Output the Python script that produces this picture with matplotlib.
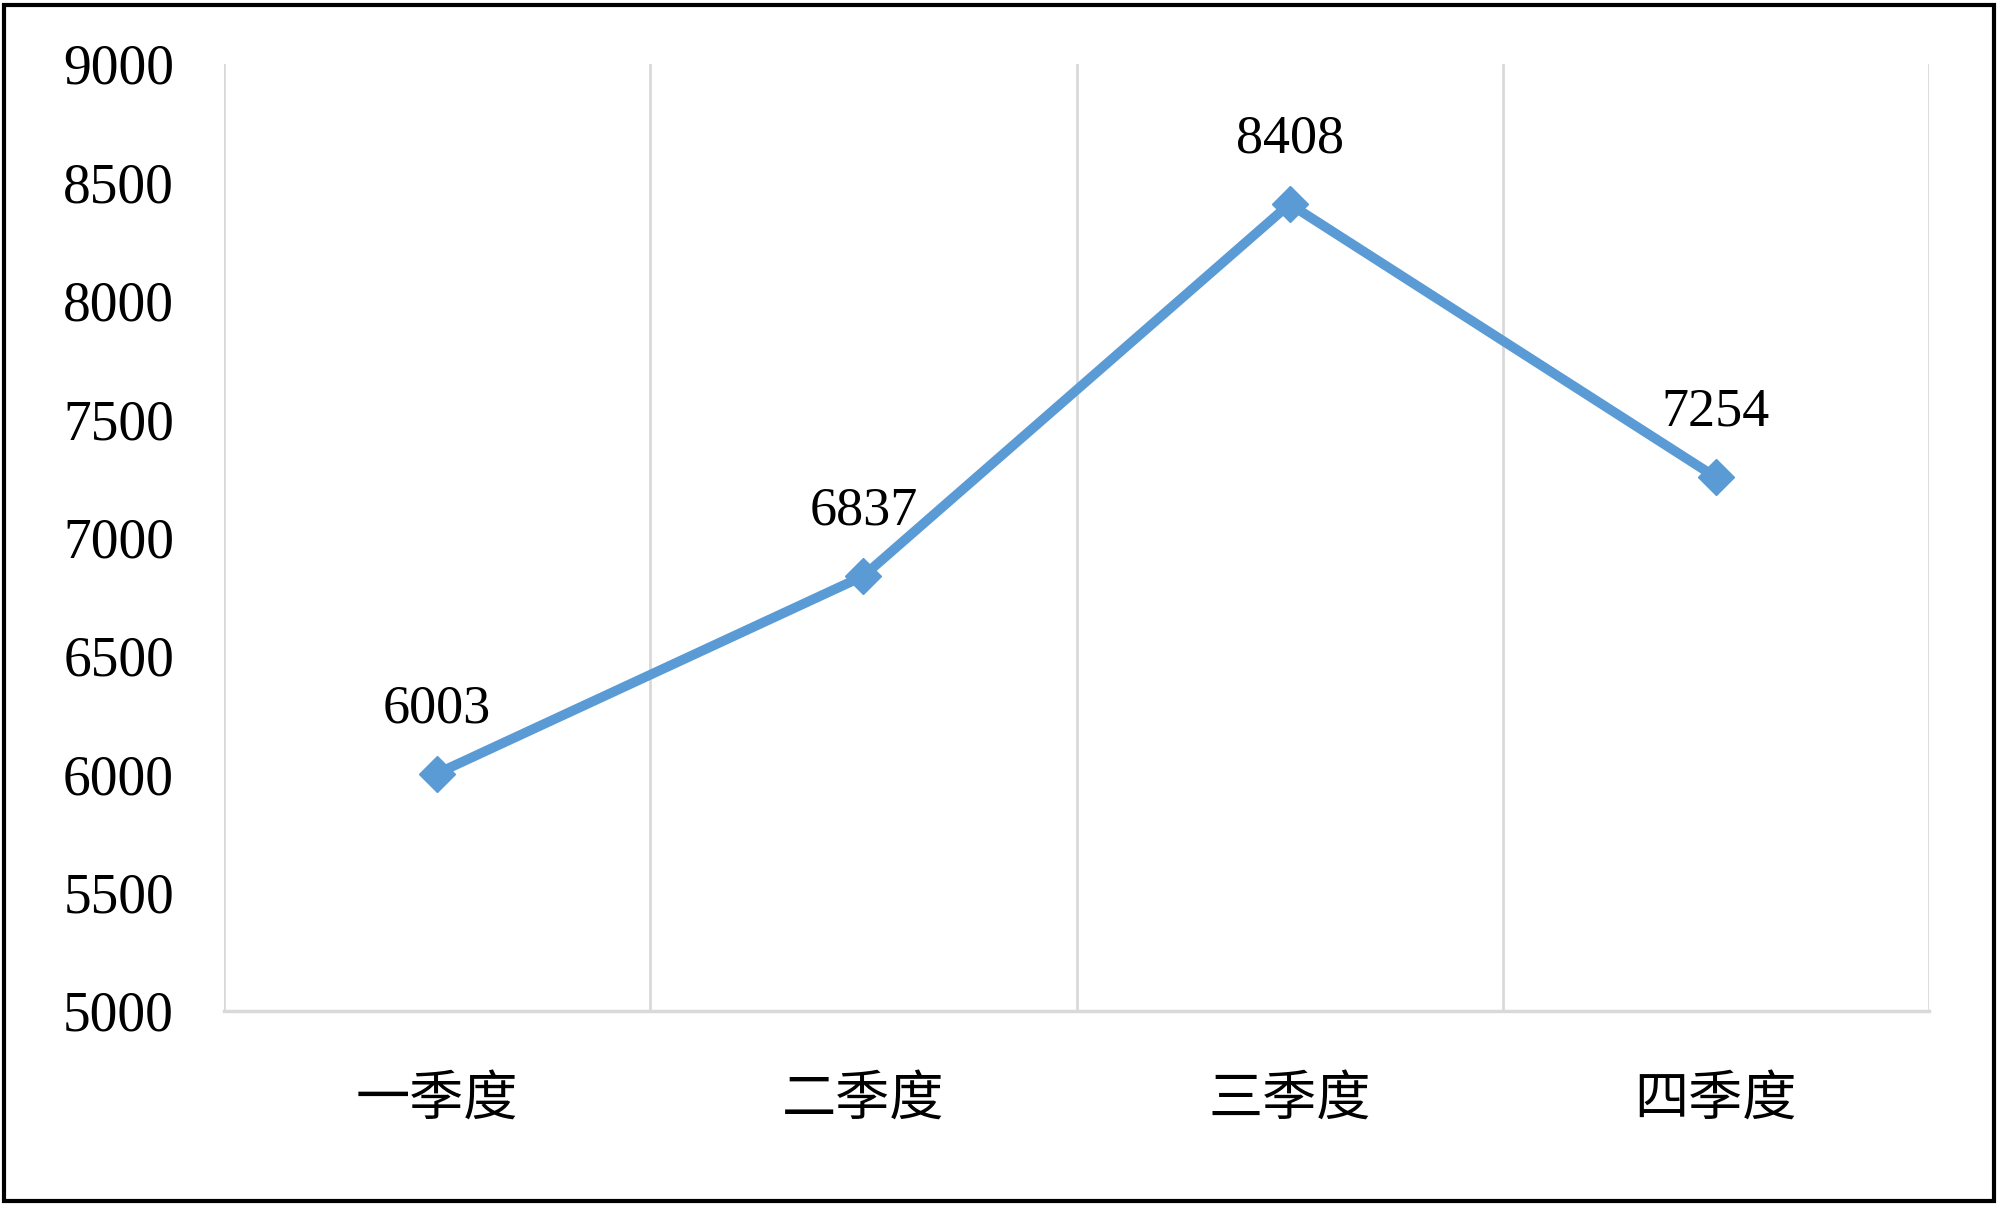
import matplotlib.pyplot as plt
from matplotlib.patches import Rectangle

quarters = ["一季度", "二季度", "三季度", "四季度"]
values = [6003, 6837, 8408, 7254]
yticks = [5000, 5500, 6000, 6500, 7000, 7500, 8000, 8500, 9000]

fig = plt.figure(figsize=(20, 12.05), dpi=100)
ax = fig.add_axes([0.112, 0.161, 0.8525, 0.786])

x = range(len(quarters))
ax.plot(x, values, color="#5B9BD5", linewidth=7, marker="D",
        markersize=18, markerfacecolor="#5B9BD5", markeredgecolor="#5B9BD5",
        zorder=3)

for xi, v in zip(x, values):
    ax.annotate(str(v), (xi, v), xytext=(0, 37), textcoords="offset points",
                ha="center", va="baseline", fontsize=39, family="Liberation Serif")

ax.set_xlim(-0.5, len(quarters) - 0.5)
ax.set_ylim(5000, 9000)
ax.set_yticks(yticks)
ax.set_yticklabels([str(t) for t in yticks], family="Liberation Serif", fontsize=40)
ax.set_xticks(list(x))
ax.set_xticklabels(quarters, family=["Noto Sans CJK SC", "DejaVu Sans"], fontsize=39)

# gridlines between categories
ax.set_xticks([i - 0.5 for i in range(len(quarters) + 1)], minor=True)
ax.grid(axis="x", which="minor", color="#D9D9D9", linewidth=2)
ax.tick_params(axis="both", which="both", length=0)
ax.tick_params(axis="y", pad=36)
ax.tick_params(axis="x", pad=44)

for s in ["left", "right", "top"]:
    ax.spines[s].set_visible(False)
ax.spines["bottom"].set_color("#D9D9D9")
ax.spines["bottom"].set_linewidth(2.5)

fig.patches.append(Rectangle((0.002, 0.003), 0.995, 0.993, transform=fig.transFigure,
                             fill=False, edgecolor="black", linewidth=3))

fig.savefig("out.png", dpi=100)
